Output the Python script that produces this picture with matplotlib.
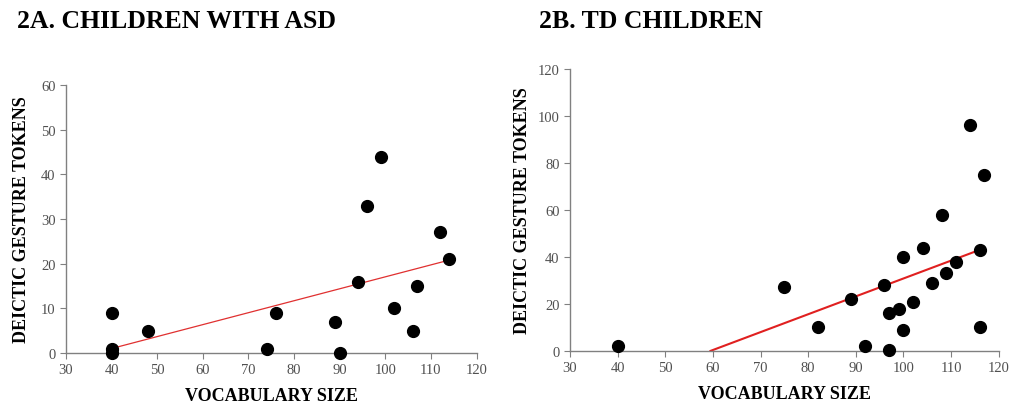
import matplotlib
matplotlib.use("Agg")
import matplotlib.pyplot as plt

plt.rcParams['font.family'] = ['Liberation Serif', 'DejaVu Serif']

# 2A: children with ASD
asd_vocab = [40, 40, 40, 48, 74, 76, 89, 90, 94, 96, 99, 102, 106, 107, 112, 114]
asd_tokens = [9, 1, 0, 5, 1, 9, 7, 0, 16, 33, 44, 10, 5, 15, 27, 21]
asd_fit_x = [40, 114]
asd_fit_y = [1, 20.8]

# 2B: TD children
td_vocab = [40, 75, 82, 89, 92, 96, 97, 97, 99, 100, 100, 102, 104, 106, 108, 109, 111, 114, 116, 116, 117]
td_tokens = [2, 27, 10, 22, 2, 28, 16, 0.5, 18, 40, 9, 21, 44, 29, 58, 33, 38, 96, 43, 10, 75]
td_fit_x = [59.5, 116]
td_fit_y = [0, 43]

x_ticks = [30, 40, 50, 60, 70, 80, 90, 100, 110, 120]

fig = plt.figure(figsize=(10.16, 4.14), dpi=100)
ax1 = fig.add_axes([0.065, 0.145, 0.404, 0.647])
ax2 = fig.add_axes([0.561, 0.150, 0.422, 0.681])


def style(ax, yticks):
    for side in ['top', 'right']:
        ax.spines[side].set_visible(False)
    for side in ['left', 'bottom']:
        ax.spines[side].set_color('#808080')
        ax.spines[side].set_linewidth(1.0)
    ax.set_xlim(30, 120)
    ax.set_xticks(x_ticks)
    ax.set_ylim(yticks[0], yticks[-1])
    ax.set_yticks(yticks)
    ax.tick_params(colors='#808080', labelcolor='#505050', labelsize=10.5, length=4, width=0.8)
    ax.set_xlabel('VOCABULARY SIZE', fontsize=13, fontweight='bold', labelpad=8)
    ax.set_ylabel('DEICTIC GESTURE TOKENS', fontsize=13, fontweight='bold')


ax1.plot(asd_fit_x, asd_fit_y, color='#e03030', lw=0.9, zorder=2)
ax1.plot(asd_vocab, asd_tokens, 'o', color='black', ms=8.5, clip_on=False, zorder=3)
style(ax1, [0, 10, 20, 30, 40, 50, 60])
ax1.yaxis.labelpad = 8

ax2.plot(td_fit_x, td_fit_y, color='#e02020', lw=1.5, zorder=2)
ax2.plot(td_vocab, td_tokens, 'o', color='black', ms=8.5, clip_on=False, zorder=3)
style(ax2, [0, 20, 40, 60, 80, 100, 120])
ax2.yaxis.labelpad = 5

fig.text(0.017, 0.947, '2A. CHILDREN WITH ASD', fontsize=18.5, fontweight='bold', va='center')
fig.text(0.531, 0.947, '2B. TD CHILDREN', fontsize=18.5, fontweight='bold', va='center')

fig.savefig('out.png', dpi=100)
